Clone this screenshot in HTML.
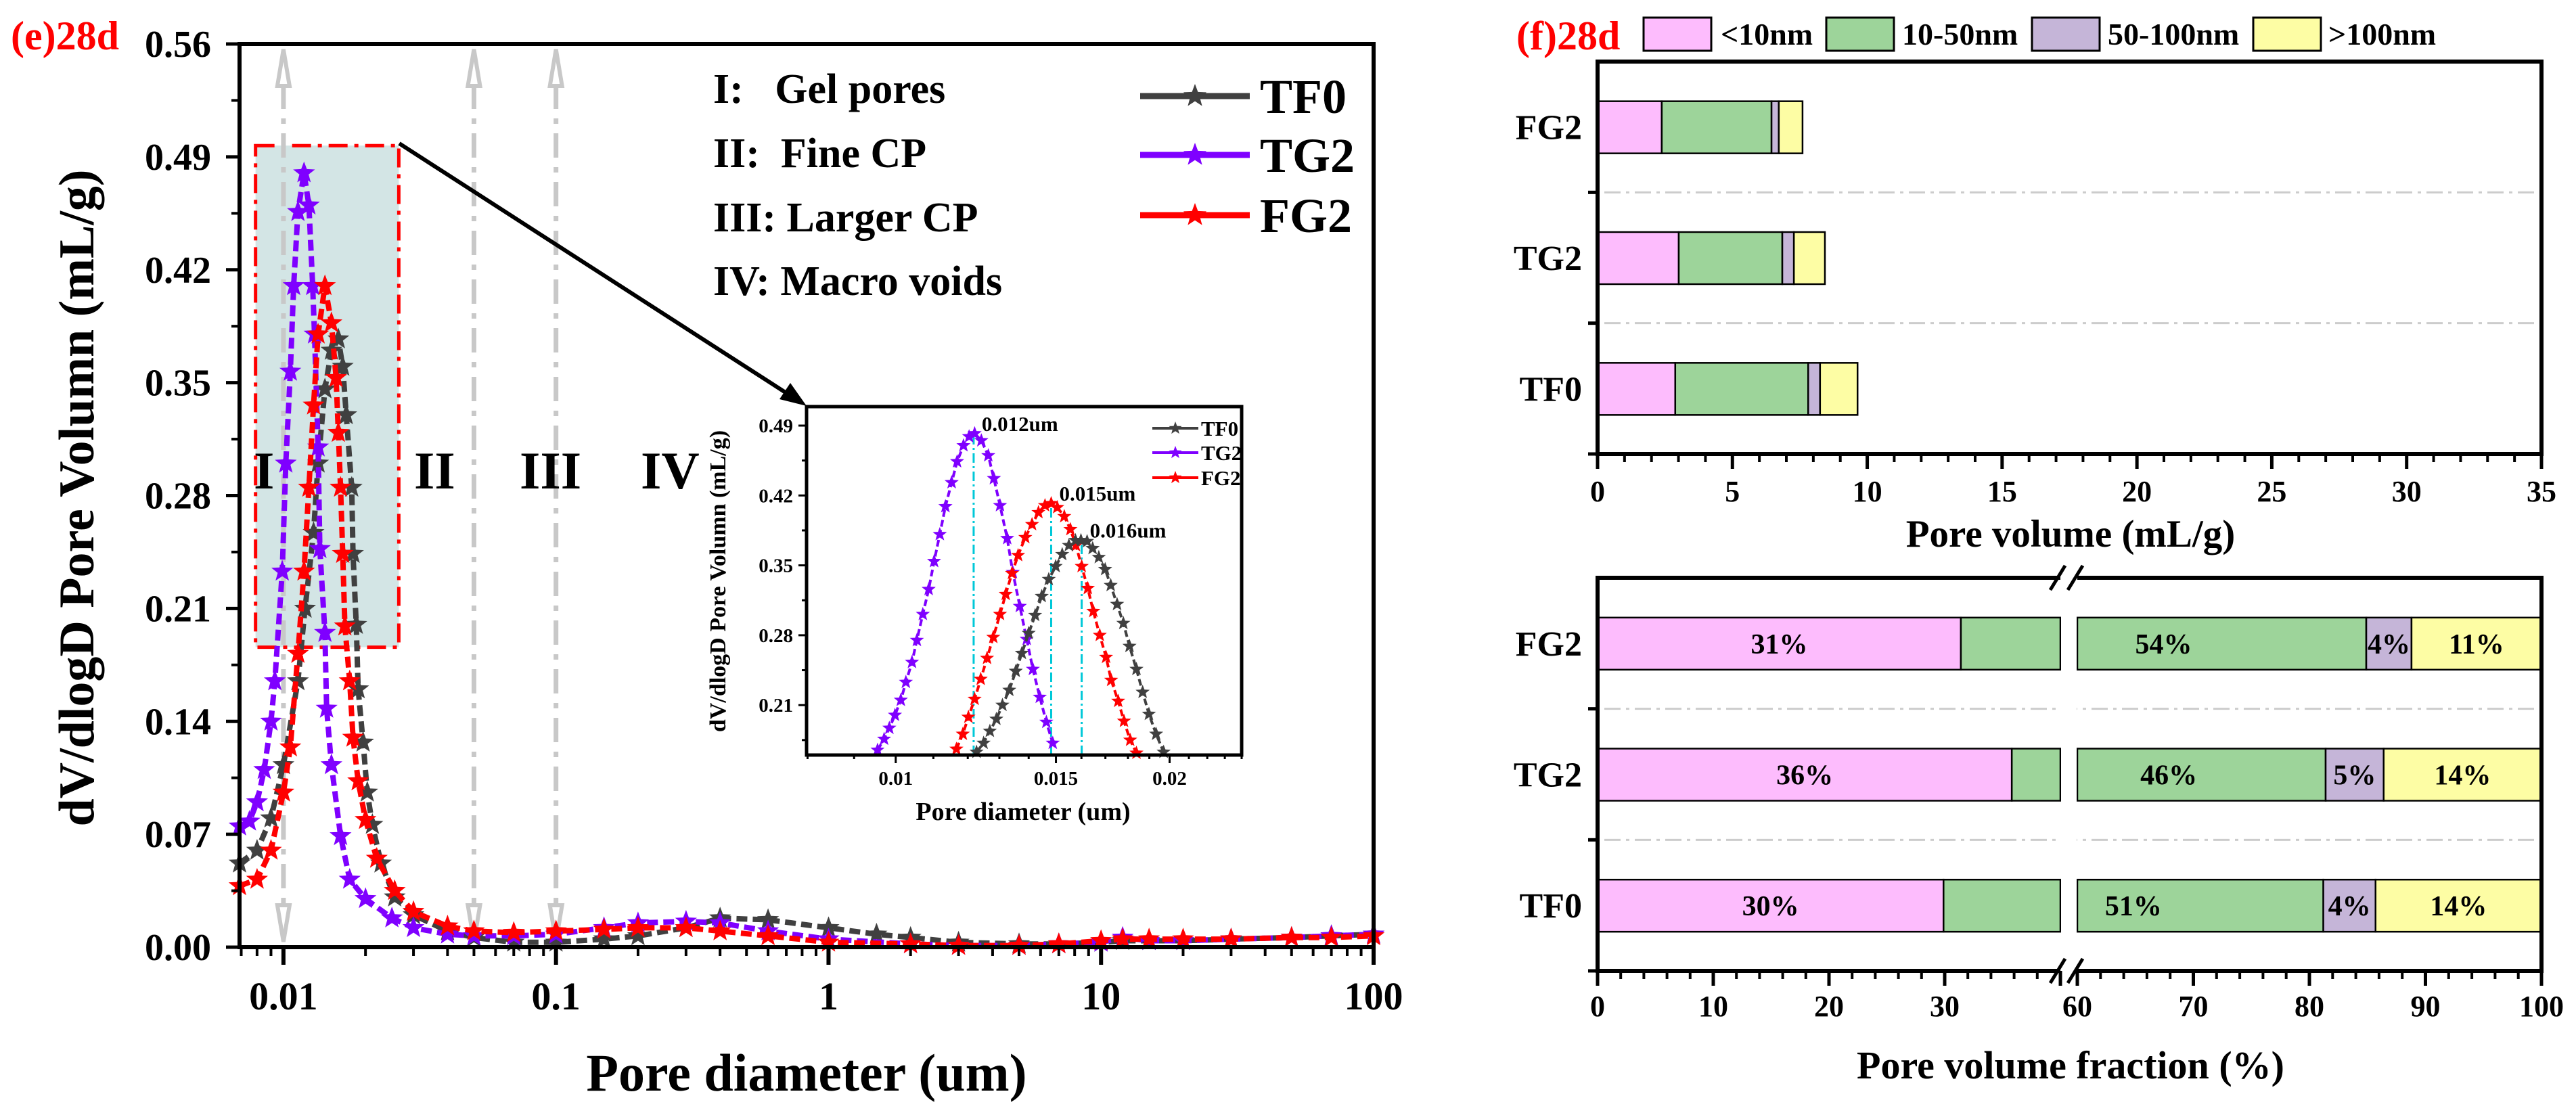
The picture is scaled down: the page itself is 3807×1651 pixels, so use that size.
<!DOCTYPE html>
<html><head><meta charset="utf-8"><style>
html,body{margin:0;padding:0;background:#fff;}
svg{display:block;font-family:"Liberation Serif",serif;font-weight:bold;}
</style></head><body>
<svg id="root" width="3807" height="1651" viewBox="0 0 3807 1651" xmlns="http://www.w3.org/2000/svg">
<rect x="0" y="0" width="3807" height="1651" fill="#ffffff"/>
<g id="left"></g>
<g id="inset"></g>
<g id="right"></g>
</svg>
<script>
// ---------- Main chart data ----------
const tf0D=[0.0069,0.008,0.009,0.01,0.0113,0.012,0.0129,0.0134,0.0142,0.015,0.0159,0.0165,0.017,0.0178,0.018,0.0185,0.0188,0.0196,0.0203,0.0212,0.0228,0.0256,0.03,0.04,0.05,0.07,0.1,0.15,0.2,0.3,0.4,0.6,1,1.5,2,3,5,7,10,12,15,20,30,50,70,100];
const tf0V=[0.052,0.06,0.08,0.113,0.165,0.21,0.257,0.30,0.346,0.37,0.377,0.36,0.33,0.285,0.244,0.20,0.16,0.127,0.096,0.076,0.052,0.031,0.02,0.01,0.006,0.003,0.003,0.005,0.007,0.012,0.018,0.017,0.012,0.008,0.006,0.003,0.002,0.002,0.003,0.004,0.004,0.004,0.005,0.006,0.007,0.008];
const tg2D=[0.0069,0.0075,0.008,0.0085,0.009,0.0093,0.0099,0.0102,0.0106,0.0109,0.0113,0.0119,0.0124,0.0128,0.013,0.0134,0.0136,0.0142,0.0144,0.015,0.0162,0.0175,0.02,0.025,0.03,0.04,0.05,0.07,0.1,0.15,0.2,0.3,0.4,0.6,1,2,3,5,7,10,12,15,20,30,50,70,100];
const tg2V=[0.075,0.078,0.09,0.11,0.14,0.165,0.233,0.30,0.357,0.41,0.456,0.48,0.46,0.41,0.38,0.31,0.247,0.195,0.148,0.113,0.069,0.042,0.03,0.018,0.012,0.008,0.007,0.007,0.008,0.012,0.015,0.016,0.015,0.01,0.005,0.002,0.001,0.001,0.002,0.003,0.006,0.004,0.004,0.005,0.006,0.007,0.008];
const fg2D=[0.0069,0.008,0.009,0.01,0.0106,0.0113,0.0119,0.0124,0.0129,0.0134,0.0142,0.015,0.0156,0.0159,0.0162,0.0165,0.0168,0.0175,0.018,0.0188,0.02,0.022,0.0256,0.03,0.04,0.05,0.07,0.1,0.15,0.2,0.3,0.4,0.6,1,2,3,5,7,10,12,15,20,30,50,70,100];
const fg2V=[0.038,0.042,0.06,0.096,0.124,0.182,0.233,0.285,0.336,0.38,0.41,0.387,0.353,0.319,0.285,0.244,0.199,0.165,0.13,0.103,0.079,0.055,0.035,0.022,0.013,0.01,0.009,0.01,0.011,0.012,0.012,0.01,0.007,0.003,0.002,0.001,0.001,0.002,0.004,0.005,0.005,0.005,0.005,0.006,0.006,0.007];
const yTicks=[0,0.07,0.14,0.21,0.28,0.35,0.42,0.49,0.56];
const yTickLabels=["0.00","0.07","0.14","0.21","0.28","0.35","0.42","0.49","0.56"];
const xTicks=[0.01,0.1,1,10,100];
const xTickLabels=["0.01","0.1","1","10","100"];
const regionLines=[0.01,0.05,0.1];
// ---------- Inset data ----------
const inTg2D=[0.00955,0.00971,0.00984,0.00998,0.01013,0.01026,0.01042,0.01055,0.01071,0.01087,0.01102,0.01118,0.01134,0.01152,0.01168,0.01187,0.01204,0.01221,0.01242,0.01264,0.01282,0.01302,0.01326,0.01345,0.01369,0.01393,0.01415,0.0144,0.01464,0.01488];
const inTg2V=[0.165,0.176,0.187,0.2,0.215,0.233,0.253,0.275,0.301,0.326,0.354,0.381,0.409,0.433,0.454,0.47,0.479,0.482,0.475,0.46,0.437,0.41,0.377,0.343,0.309,0.276,0.246,0.218,0.193,0.172];
const inFg2D=[0.01166,0.01185,0.01202,0.01221,0.0124,0.0126,0.0128,0.01302,0.01321,0.01342,0.01363,0.01388,0.01412,0.01435,0.01459,0.01482,0.01505,0.01532,0.01556,0.01578,0.01601,0.01626,0.01649,0.01676,0.01703,0.01725,0.01756,0.01782,0.0181,0.01839];
const inFg2V=[0.166,0.181,0.198,0.216,0.236,0.257,0.278,0.301,0.321,0.342,0.36,0.378,0.391,0.403,0.41,0.412,0.408,0.399,0.386,0.37,0.349,0.327,0.304,0.28,0.258,0.235,0.214,0.194,0.175,0.162];
const inTf0D=[0.01227,0.01249,0.01269,0.0129,0.0131,0.01333,0.01355,0.01376,0.014,0.01423,0.01447,0.01473,0.01499,0.01524,0.0155,0.01576,0.01598,0.01623,0.01646,0.01672,0.01699,0.01723,0.01751,0.01779,0.01807,0.01839,0.01868,0.01898,0.01933,0.0197];
const inTf0V=[0.163,0.172,0.184,0.196,0.21,0.225,0.244,0.262,0.282,0.3,0.319,0.336,0.349,0.361,0.37,0.375,0.375,0.374,0.367,0.358,0.346,0.33,0.311,0.292,0.269,0.246,0.223,0.201,0.181,0.163];
const inYTicks=[0.21,0.28,0.35,0.42,0.49];
const inXTicks=[0.01,0.015,0.02];
const peakD=[0.01218,0.01482,0.01601];
const peakV=[0.482,0.412,0.375];
const peakLabels=["0.012um","0.015um","0.016um"];
// ---------- Bar data ----------
const categories=["FG2","TG2","TF0"];
const volLt10=[2.38,3.01,2.88];
const vol10to50=[4.07,3.84,4.93];
const vol50to100=[0.27,0.43,0.44];
const volGt100=[0.88,1.15,1.39];
const fracLt10=[31.4,35.8,29.9];
const frac10to50=[53.5,45.6,51.3];
const frac50to100=[3.9,5.0,4.5];
const fracGt100=[11.2,13.6,14.3];
const fracLabels=[["31%","54%","4%","11%"],["36%","46%","5%","14%"],["30%","51%","4%","14%"]];
const volTicks=[0,5,10,15,20,25,30,35];
const fracTicks=[0,10,20,30,60,70,80,90,100];
const classNames=["<10nm","10-50nm","50-100nm",">100nm"];

const NS="http://www.w3.org/2000/svg";
function mk(parent,tag,attrs,text){const e=document.createElementNS(NS,tag);for(const k in attrs)e.setAttribute(k,attrs[k]);if(text!==undefined)e.textContent=text;parent.appendChild(e);return e;}
function starPath(cx,cy,R){let d="";for(let i=0;i<10;i++){const r=i%2?R*0.42:R;const a=-Math.PI/2+i*Math.PI/5;d+=(i?"L":"M")+(cx+r*Math.cos(a)).toFixed(1)+","+(cy+r*Math.sin(a)).toFixed(1);}return d+"Z";}

// ================= LEFT CHART =================
const L=document.getElementById("left");
const PX0=354,PX1=2030,PY0=65,PY1=1400;
const logMin=Math.log10(0.0069),logMax=2;
function lx(d){return PX0+(Math.log10(d)-logMin)/(logMax-logMin)*(PX1-PX0);}
function ly(v){return PY1-v/0.56*(PY1-PY0);}

// zoom box
let e=mk(L,"rect",{x:lx(0.0079),y:ly(0.497),width:lx(0.0265)-lx(0.0079),height:ly(0.186)-ly(0.497),fill:"#d3e5e5",stroke:"#ff0000","stroke-width":5,"stroke-dasharray":"28 10 6 10"});


// region lines
regionLines.forEach(d=>{const x=lx(d);
 let g=mk(L,"g",{});
 
 
 mk(g,"line",{x1:x,y1:PY0+60,x2:x,y2:PY1-60,stroke:"#c8c8c8","stroke-width":7,"stroke-dasharray":"36 14 8 14"});
 mk(g,"path",{d:`M${x-9},${PY0+62}L${x},${PY0+8}L${x+9},${PY0+62}Z`,fill:"none",stroke:"#c8c8c8","stroke-width":6});
 mk(g,"path",{d:`M${x-9},${PY1-62}L${x},${PY1-8}L${x+9},${PY1-62}Z`,fill:"none",stroke:"#c8c8c8","stroke-width":6});
});
// series
function drawSeries(par,D,V,color,fx,fy,R,name,dash,w){
 const g=mk(par,"g",{});
 
 
 let d="";D.forEach((x,i)=>{d+=(i?"L":"M")+fx(x).toFixed(1)+","+fy(V[i]).toFixed(1);});
 mk(g,"path",{d:d,fill:"none",stroke:color,"stroke-width":w,"stroke-dasharray":dash});
 D.forEach((x,i)=>{const s=mk(g,"path",{d:starPath(fx(x),fy(V[i]),R),fill:color});
  
  });
}
drawSeries(L,tf0D,tf0V,"#404040",lx,ly,17,"series-tf0","16 8",8);
drawSeries(L,tg2D,tg2V,"#7f00ff",lx,ly,17,"series-tg2","16 8",8);
drawSeries(L,fg2D,fg2V,"#ff0000",lx,ly,17,"series-fg2","16 8",8);
// arrow
e=mk(L,"line",{x1:590,y1:212,x2:1170,y2:586,stroke:"#000","stroke-width":6});


e=mk(L,"path",{d:"M1192,600L1152,590L1168,566Z",fill:"#000"});


// frame
e=mk(L,"rect",{x:PX0,y:PY0,width:PX1-PX0,height:PY1-PY0,fill:"none",stroke:"#000","stroke-width":6});


// y ticks
yTicks.forEach((v,i)=>{const y=ly(v);
 mk(L,"line",{x1:PX0-20,y1:y,x2:PX0,y2:y,stroke:"#000","stroke-width":5});
 if(i<yTicks.length-1)mk(L,"line",{x1:PX0-12,y1:ly(v+0.035),x2:PX0,y2:ly(v+0.035),stroke:"#000","stroke-width":4});
 const t=mk(L,"text",{x:312,y:y+19,"text-anchor":"end","font-size":56},yTickLabels[i]);
 
 
});
// x ticks
for(let dec=-3;dec<=2;dec++){for(let m=1;m<10;m++){const d=m*Math.pow(10,dec);if(d<0.0069||d>100.01)continue;const x=lx(d);
 mk(L,"line",{x1:x,y1:PY1,x2:x,y2:PY1+(m===1?26:13),stroke:"#000","stroke-width":m===1?6:4});}}
xTicks.forEach((d,i)=>{const t=mk(L,"text",{x:lx(d),y:1492,"text-anchor":"middle","font-size":58},xTickLabels[i]);
 
 });
e=mk(L,"text",{x:1192,y:1612,"text-anchor":"middle","font-size":78},"Pore diameter (um)");


e=mk(L,"text",{x:0,y:0,"text-anchor":"middle","font-size":74,transform:"translate(138,736) rotate(-90)"},"dV/dlogD Pore Volumn (mL/g)");


e=mk(L,"text",{x:16,y:73,"font-size":60,fill:"#ff0000"},"(e)28d");


// region labels
[["I",375],["II",612],["III",768],["IV",947]].forEach(r=>{const t=mk(L,"text",{x:r[1],y:722,"font-size":78},r[0]);
 
 });
// region legend
[["I:   Gel pores",152],["II:  Fine CP",247],["III: Larger CP",342],["IV: Macro voids",436]].forEach(r=>{const t=mk(L,"text",{x:1054,y:r[1],"font-size":62,"xml:space":"preserve",style:"white-space:pre"},r[0]);
 
 });
// series legend
[["TF0","#404040",142],["TG2","#7f00ff",229],["FG2","#ff0000",318]].forEach(r=>{const g=mk(L,"g",{});
 
 
 mk(g,"line",{x1:1685,y1:r[2],x2:1847,y2:r[2],stroke:r[1],"stroke-width":9});
 mk(g,"path",{d:starPath(1766,r[2],18),fill:r[1]});
 mk(g,"text",{x:1862,y:r[2]+25,"font-size":72},r[0]);});

// ================= INSET =================
const I=document.getElementById("inset");
const IX0=1192,IX1=1835,IY0=601,IY1=1116;
const ilMin=Math.log10(0.00798),ilMax=Math.log10(0.024);
function ix(d){return IX0+(Math.log10(d)-ilMin)/(ilMax-ilMin)*(IX1-IX0);}
function iy(v){return IY1-(v-0.160)/(0.509-0.160)*(IY1-IY0);}
mk(I,"rect",{x:IX0,y:IY0,width:IX1-IX0,height:IY1-IY0,fill:"#fff"});
peakD.forEach((d,i)=>{const l=mk(I,"line",{x1:ix(d),y1:IY1,x2:ix(d),y2:iy(peakV[i]),stroke:"#00c8d8","stroke-width":3,"stroke-dasharray":"14 5 3 5"});
 
 });
drawSeries(I,inTg2D,inTg2V,"#7f00ff",ix,iy,11,"inset-series-tg2","10 5",4);
drawSeries(I,inFg2D,inFg2V,"#ff0000",ix,iy,11,"inset-series-fg2","10 5",4);
drawSeries(I,inTf0D,inTf0V,"#404040",ix,iy,11,"inset-series-tf0","10 5",4);
peakD.forEach((d,i)=>{const t=mk(I,"text",{x:ix(d)+12,y:iy(peakV[i])-4,"font-size":31},peakLabels[i]);
 
 });
e=mk(I,"rect",{x:IX0,y:IY0,width:IX1-IX0,height:IY1-IY0,fill:"none",stroke:"#000","stroke-width":5});


inYTicks.forEach(v=>{const y=iy(v);mk(I,"line",{x1:IX0-12,y1:y,x2:IX0,y2:y,stroke:"#000","stroke-width":3});
 mk(I,"line",{x1:IX0-7,y1:iy(v-0.035),x2:IX0,y2:iy(v-0.035),stroke:"#000","stroke-width":3});
 const t=mk(I,"text",{x:1172,y:y+10,"text-anchor":"end","font-size":29},v.toFixed(2));
 
 });
for(let d=0.008;d<=0.0241;d+=0.001){mk(I,"line",{x1:ix(d),y1:IY1,x2:ix(d),y2:IY1+(Math.abs(d*1000-Math.round(d*200)*5)<0.01?12:6),stroke:"#000","stroke-width":3});}
inXTicks.forEach(d=>{const t=mk(I,"text",{x:ix(d),y:1160,"text-anchor":"middle","font-size":29},String(d));
 
 });
e=mk(I,"text",{x:1512,y:1212,"text-anchor":"middle","font-size":38},"Pore diameter (um)");


e=mk(I,"text",{x:0,y:0,"text-anchor":"middle","font-size":34,transform:"translate(1072,859) rotate(-90)"},"dV/dlogD Pore Volumn (mL/g)");


[["TF0","#404040",633],["TG2","#7f00ff",669],["FG2","#ff0000",706]].forEach(r=>{const g=mk(I,"g",{});
 
 
 mk(g,"line",{x1:1703,y1:r[2],x2:1771,y2:r[2],stroke:r[1],"stroke-width":4});
 mk(g,"path",{d:starPath(1737,r[2],10),fill:r[1]});
 mk(g,"text",{x:1775,y:r[2]+11,"font-size":31},r[0]);});

// ================= RIGHT BARS =================
const R=document.getElementById("right");
const colors=["#fdbcfd","#9dd49a","#c5b5d8","#fdfda4"];
const BX0=2361,BX1=3756;
const T0=91,T1=671,B0=854,B1=1435;
function vx(v){return BX0+v/35*(BX1-BX0);}
function fx(v){if(v<=40)return BX0+v*17.1;if(v>=60)return 3070+(v-60)*(BX1-3070)/40;return null;}
e=mk(R,"text",{x:2241,y:73,"font-size":60,fill:"#ff0000"},"(f)28d");


// legend
[[2429,2543],[2699,2811],[3003,3115],[3330,3441]].forEach((p,i)=>{const g=mk(R,"g",{});
 
 
 mk(g,"rect",{x:p[0],y:26,width:100,height:49,fill:colors[i],stroke:"#000","stroke-width":3});
 mk(g,"text",{x:p[1],y:66,"font-size":46},classNames[i]);});
// top chart
function band(i,y0,y1){const h=(y1-y0)/3;return y0+h*i+h/2;}
[T0+(T1-T0)/3,T0+2*(T1-T0)/3].forEach(y=>{mk(R,"line",{x1:BX0+10,y1:y,x2:BX1,y2:y,stroke:"#cccccc","stroke-width":3,"stroke-dasharray":"24 8 5 8"});
 mk(R,"line",{x1:BX0-14,y1:y,x2:BX0,y2:y,stroke:"#000","stroke-width":5});});
const volSets=[volLt10,vol10to50,vol50to100,volGt100];
categories.forEach((c,i)=>{const cy=band(i,T0,T1);let acc=0;
 volSets.forEach((arr,k)=>{const r=mk(R,"rect",{x:vx(acc),y:cy-38,width:vx(acc+arr[i])-vx(acc),height:77,fill:colors[k],stroke:"#000","stroke-width":2.5});
  
  
  acc+=arr[i];});
 const t=mk(R,"text",{x:2338,y:cy+18,"text-anchor":"end","font-size":52},c);
 
 });
e=mk(R,"path",{d:`M${BX0},${T0}H${BX1}V${T1}H${BX0}Z`,fill:"none",stroke:"#000","stroke-width":6});


mk(R,"line",{x1:BX0-14,y1:T1,x2:BX0,y2:T1,stroke:"#000","stroke-width":5});
for(let v=0;v<=35;v++){mk(R,"line",{x1:vx(v),y1:T1,x2:vx(v),y2:T1+(v%5===0?22:12),stroke:"#000","stroke-width":v%5===0?5:4});}
volTicks.forEach(v=>{const t=mk(R,"text",{x:vx(v),y:741,"text-anchor":"middle","font-size":44},String(v));
 
 });
e=mk(R,"text",{x:3060,y:808,"text-anchor":"middle","font-size":57},"Pore volume (mL/g)");


// bottom chart
[B0+(B1-B0)/3,B0+2*(B1-B0)/3].forEach(y=>{mk(R,"line",{x1:BX0+10,y1:y,x2:BX1,y2:y,stroke:"#cccccc","stroke-width":3,"stroke-dasharray":"24 8 5 8"});
 mk(R,"line",{x1:BX0-14,y1:y,x2:BX0,y2:y,stroke:"#000","stroke-width":5});});
const fracSets=[fracLt10,frac10to50,frac50to100,fracGt100];
categories.forEach((c,i)=>{const cy=band(i,B0,B1);let acc=0;
 fracSets.forEach((arr,k)=>{const a=acc,b=Math.min(100,acc+arr[i]);
  const parts=[];if(a<40)parts.push([fx(a),fx(Math.min(b,40))]);if(b>60)parts.push([fx(Math.max(a,60)),fx(b)]);
  parts.forEach(p=>{const r=mk(R,"rect",{x:p[0],y:cy-38,width:p[1]-p[0],height:77,fill:colors[k],stroke:"#000","stroke-width":2.5});
   
   });
  const x0=a<40?fx(a):(a>60?fx(a):fx(60)),x1=b<=40?fx(b):(b>=60?fx(b):fx(40));
  const t=mk(R,"text",{x:(x0+x1)/2,y:cy+15,"text-anchor":"middle","font-size":42},fracLabels[i][k]);
  
  
  acc+=arr[i];});
 const t=mk(R,"text",{x:2338,y:cy+18,"text-anchor":"end","font-size":52},c);
 
 });
// break gap whitening
mk(R,"rect",{x:3046,y:B0-3,width:23,height:B1-B0+6,fill:"#fff"});
e=mk(R,"path",{d:`M3045,${B0}H${BX0}V${B1}H3045M3070,${B0}H${BX1}V${B1}H3070`,fill:"none",stroke:"#000","stroke-width":6});


[B0,B1].forEach(y=>{[3040,3066].forEach(x=>{const l=mk(R,"line",{x1:x-10,y1:y+18,x2:x+12,y2:y-18,stroke:"#000","stroke-width":5});
 
 });});
mk(R,"line",{x1:BX0-14,y1:B1,x2:BX0,y2:B1,stroke:"#000","stroke-width":5});
for(let v=0;v<=100;v+=2){if(v>40&&v<60)continue;mk(R,"line",{x1:fx(v),y1:B1,x2:fx(v),y2:B1+(v%10===0?22:12),stroke:"#000","stroke-width":v%10===0?5:4});}
fracTicks.forEach(v=>{const t=mk(R,"text",{x:fx(v),y:1502,"text-anchor":"middle","font-size":44},String(v));
 
 });
e=mk(R,"text",{x:3060,y:1594,"text-anchor":"middle","font-size":58},"Pore volume fraction (%)");


</script>
</body></html>
